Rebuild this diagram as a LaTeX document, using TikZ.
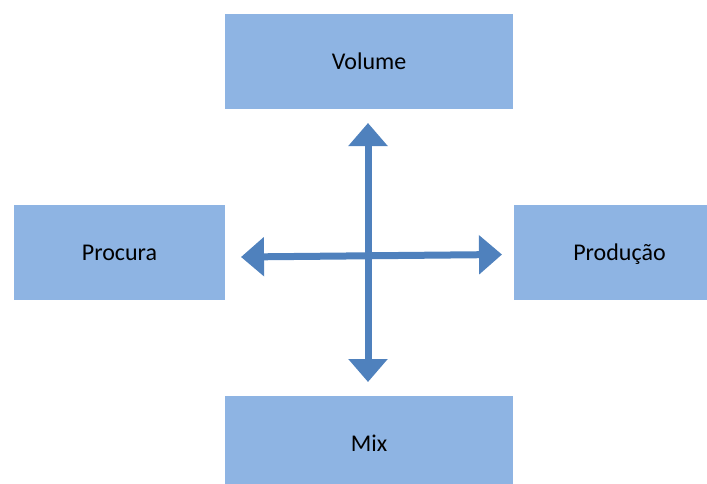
\documentclass[tikz,border=0pt]{standalone}
\usepackage{fontspec}
\setmainfont{Carlito}
\usetikzlibrary{arrows.meta}
\definecolor{boxblue}{HTML}{8EB4E3}
\definecolor{arrowblue}{HTML}{4F81BD}
\begin{document}
\begin{tikzpicture}[x=1pt,y=-1pt,
  box/.style={fill=boxblue,draw=none,minimum width=288pt,minimum height=95pt,inner sep=0pt,text height=18pt,text depth=3pt,font=\fontsize{24}{28}\selectfont},
  sidebox/.style={box,minimum width=211pt},
  bigarrow/.style={draw=arrowblue,line width=7pt,{Triangle[width=38pt,length=23pt]}-{Triangle[width=38pt,length=23pt]}}]
\useasboundingbox (0,0) rectangle (707,483);
\clip (0,0) rectangle (707,483);
\node[box] (volume) at (369,61.5) {Volume};
\node[box] (mix) at (369,443.5) {Mix};
\node[sidebox] (procura) at (119.5,252.5) {Procura};
\node[sidebox] (producao) at (619.5,252.5) {Produção};
\coordinate (top) at (368,123);
\coordinate (bottom) at (368,382);
\coordinate (left) at (241,257);
\coordinate (right) at (502,254.5);
\draw[bigarrow] (left) -- (right);
\draw[bigarrow] (top) -- (bottom);
\end{tikzpicture}
\end{document}
